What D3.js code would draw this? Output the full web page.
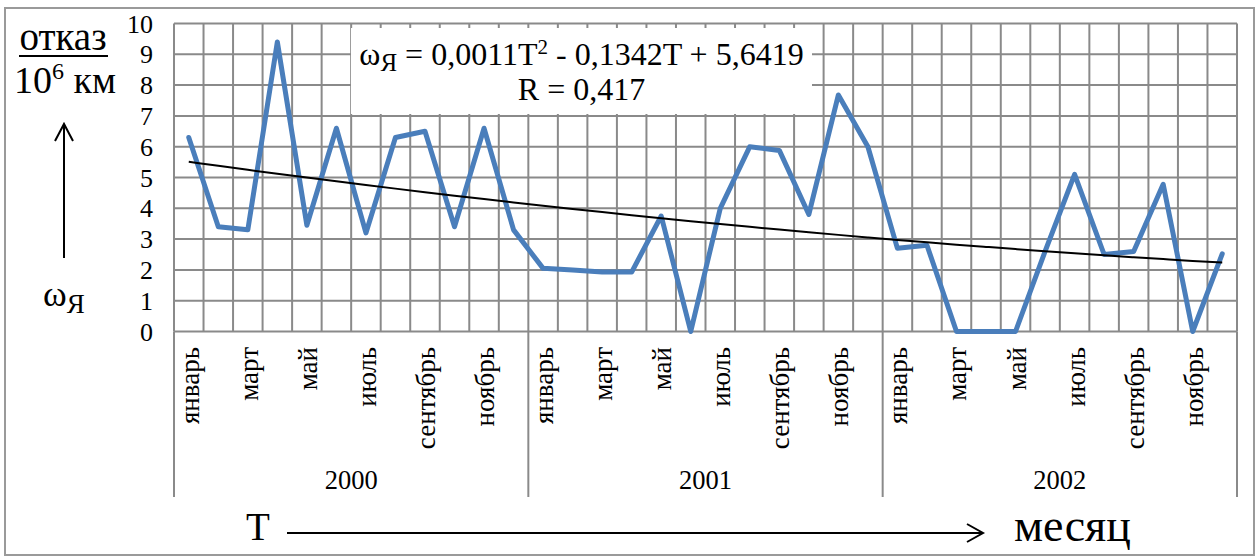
<!DOCTYPE html>
<html>
<head>
<meta charset="utf-8">
<script src="https://cdn.jsdelivr.net/npm/d3@7"></script>
<style>
  html, body { margin: 0; padding: 0; background: #fff; }
  svg { display: block; }
</style>
</head>
<body>
<svg id="chart" width="1259" height="560"></svg>
<script>
// Monthly failure rate ω_Я (failures per 10^6 km), 2000–2002
const years = ["2000", "2001", "2002"];
const months = ["январь", "февраль", "март", "апрель", "май", "июнь",
                "июль", "август", "сентябрь", "октябрь", "ноябрь", "декабрь"];
const values2000 = [6.3, 3.4, 3.3, 9.4, 3.45, 6.6, 3.2, 6.3, 6.5, 3.4, 6.6, 3.3];
const values2001 = [2.05, 2.0, 1.93, 1.93, 3.75, 0, 4.0, 6.0, 5.88, 3.8, 7.68, 6.0];
const values2002 = [2.7, 2.8, 0, 0, 0, 2.6, 5.1, 2.5, 2.6, 4.78, 0, 2.52];
const yTicks = [0, 1, 2, 3, 4, 5, 6, 7, 8, 9, 10];
// Polynomial trend ω = a·T² + b·T + c, as printed on the chart
const trendCoefs = [0.0011, -0.1342, 5.6419];

const series = [values2000, values2001, values2002].flat();
const points = series.map((v, i) => ({
  i, T: i + 1, v,
  year: years[Math.floor(i / 12)],
  month: months[i % 12]
}));

const FONT = "'Liberation Serif', 'Times New Roman', serif";
const svg = d3.select("#chart")
  .attr("font-family", FONT)
  .style("font-family", FONT);

const plot = { left: 174, right: 1237, top: 23.5, bottom: 331.5 };
const axisBottom = 497;

const x = d3.scaleBand().domain(d3.range(points.length)).range([plot.left, plot.right]).padding(0);
const y = d3.scaleLinear().domain([0, 10]).range([plot.bottom, plot.top]);
const cx = i => x(i) + x.bandwidth() / 2;

const grid = "#8a8a8a";

// Outer frame
svg.append("rect")
  .attr("x", 5).attr("y", 8).attr("width", 1249).attr("height", 547)
  .attr("fill", "none").attr("stroke", "#9a9a9a").attr("stroke-width", 2);

// Horizontal gridlines
svg.append("g").selectAll("line").data(yTicks).join("line")
  .attr("x1", plot.left).attr("x2", plot.right)
  .attr("y1", d => y(d)).attr("y2", d => y(d))
  .attr("stroke", grid).attr("stroke-width", 2);

// Vertical gridlines at every category boundary
const bounds = d3.range(points.length + 1).map(k => plot.left + k * x.bandwidth());
svg.append("g").selectAll("line").data(bounds).join("line")
  .attr("x1", d => d).attr("x2", d => d)
  .attr("y1", plot.top).attr("y2", plot.bottom)
  .attr("stroke", grid).attr("stroke-width", 2);

// Year separators on the category axis
const yearBounds = d3.range(years.length + 1).map(k => plot.left + k * 12 * x.bandwidth());
svg.append("g").selectAll("line").data(yearBounds).join("line")
  .attr("x1", d => d).attr("x2", d => d)
  .attr("y1", plot.bottom).attr("y2", axisBottom)
  .attr("stroke", grid).attr("stroke-width", 2);

const label = sel => sel.attr("fill", "#000");

// Y tick labels
svg.append("g").selectAll("text").data(yTicks).join("text")
  .call(label)
  .attr("x", 153).attr("y", d => y(d))
  .attr("dy", "0.35em")
  .attr("text-anchor", "end")
  .attr("font-size", 26)
  .text(d => d);

// Month labels (every second month), rotated
svg.append("g").selectAll("text").data(points.filter(p => p.i % 2 === 0)).join("text")
  .call(label)
  .attr("transform", p => `translate(${cx(p.i) + 10},${347}) rotate(-90)`)
  .attr("text-anchor", "end")
  .attr("font-size", 27)
  .text(p => p.month);

// Year labels
svg.append("g").selectAll("text").data(years).join("text")
  .call(label)
  .attr("x", (d, k) => (yearBounds[k] + yearBounds[k + 1]) / 2)
  .attr("y", 489)
  .attr("text-anchor", "middle")
  .attr("font-size", 26.5)
  .text(d => d);

// Data line
svg.append("path")
  .datum(points)
  .attr("d", d3.line().x(p => cx(p.i)).y(p => y(p.v)))
  .attr("fill", "none")
  .attr("stroke", "#4a7ebb")
  .attr("stroke-width", 5)
  .attr("stroke-linejoin", "round")
  .attr("stroke-linecap", "round");

// Trend curve
const trend = points.map(p => ({
  i: p.i,
  v: trendCoefs[0] * p.T * p.T + trendCoefs[1] * p.T + trendCoefs[2]
}));
svg.append("path")
  .datum(trend)
  .attr("d", d3.line().x(p => cx(p.i)).y(p => y(p.v)).curve(d3.curveMonotoneX))
  .attr("fill", "none")
  .attr("stroke", "#000")
  .attr("stroke-width", 2);

// Trend equation box
svg.append("rect")
  .attr("x", 351).attr("y", 28).attr("width", 461).attr("height", 86)
  .attr("fill", "#fff");

const fmt = n => String(Math.abs(n)).replace(".", ",");
const eq = svg.append("text")
  .call(label)
  .attr("x", 581.5).attr("y", 65)
  .attr("text-anchor", "middle")
  .attr("font-size", 32);
eq.append("tspan").text("ω");
eq.append("tspan").attr("font-size", 25).attr("dy", 6).text("Я");
eq.append("tspan").attr("dy", -6).text(` = ${fmt(trendCoefs[0])}T`);
eq.append("tspan").attr("font-size", 21).attr("dy", -11).text("2");
eq.append("tspan").attr("dy", 11).text(` - ${fmt(trendCoefs[1])}T + ${fmt(trendCoefs[2])}`);

svg.append("text")
  .call(label)
  .attr("x", 581.5).attr("y", 100)
  .attr("text-anchor", "middle")
  .attr("font-size", 32)
  .text("R = 0,417");

// Y axis caption: отказ / 10^6 км, arrow, ω_Я
svg.append("text")
  .call(label)
  .attr("x", 63).attr("y", 50).attr("text-anchor", "middle")
  .attr("font-size", 39).text("отказ");
svg.append("line")
  .attr("x1", 19).attr("x2", 108).attr("y1", 56).attr("y2", 56)
  .attr("stroke", "#000").attr("stroke-width", 2);
const km = svg.append("text")
  .call(label)
  .attr("x", 65).attr("y", 93).attr("text-anchor", "middle")
  .attr("font-size", 38);
km.append("tspan").text("10");
km.append("tspan").attr("font-size", 24).attr("dy", -14).text("6");
km.append("tspan").attr("dy", 14).text(" км");

svg.append("path")
  .attr("d", "M64,258 L64,124 M55,141 L64,124 L73,141")
  .attr("fill", "none").attr("stroke", "#000").attr("stroke-width", 2);

const om = svg.append("text")
  .call(label)
  .attr("x", 43).attr("y", 306)
  .attr("font-size", 36);
om.append("tspan").text("ω");
om.append("tspan").attr("font-size", 27).attr("dy", 7).text("Я");

// X axis caption: T ——→ месяц
svg.append("text")
  .call(label)
  .attr("x", 246).attr("y", 540)
  .attr("font-size", 39).text("T");
svg.append("path")
  .attr("d", "M287,533 L983,533 M967,524 L983,533 L967,542")
  .attr("fill", "none").attr("stroke", "#000").attr("stroke-width", 2);
svg.append("text")
  .call(label)
  .attr("x", 1014).attr("y", 541)
  .attr("font-size", 46).text("месяц");
</script>
</body>
</html>
